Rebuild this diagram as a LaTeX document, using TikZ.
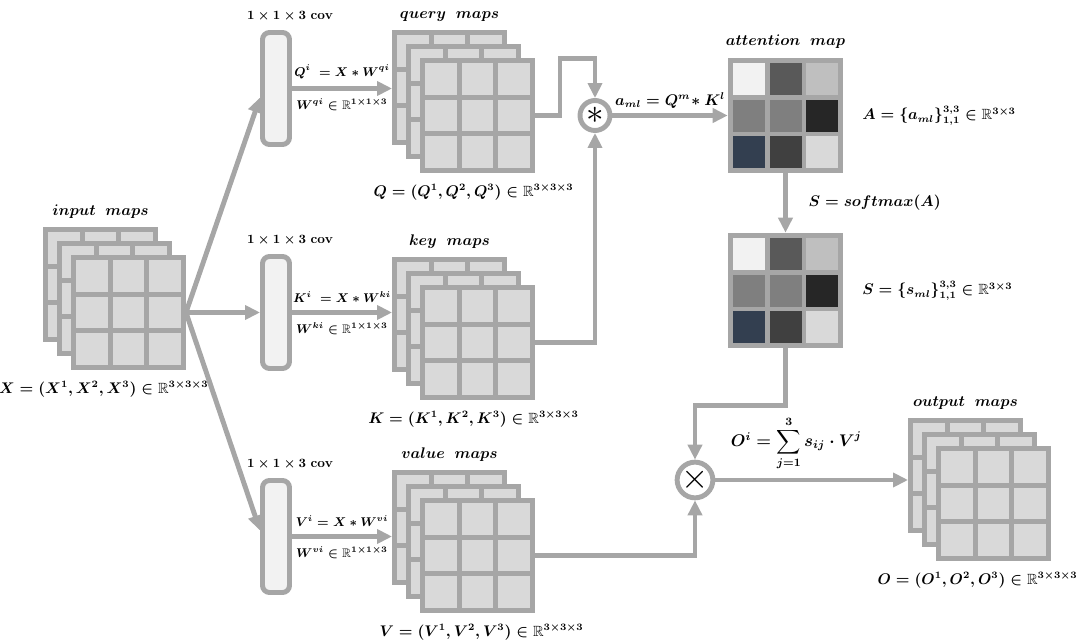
\documentclass[tikz,border=0pt]{standalone}
\usepackage{amsmath}
\usepackage{amssymb}
\usepackage{tikz}
\usetikzlibrary{positioning,arrows.meta,calc}
\definecolor{MapLine}{RGB}{166,166,166}
\definecolor{MapCell}{RGB}{217,217,217}
\definecolor{ConvFill}{RGB}{242,242,242}
\definecolor{CellW}{RGB}{242,242,242}
\definecolor{CellDa}{RGB}{89,89,89}
\definecolor{CellL}{RGB}{191,191,191}
\definecolor{CellM}{RGB}{127,127,127}
\definecolor{CellK}{RGB}{38,38,38}
\definecolor{CellB}{RGB}{51,63,80}
\definecolor{CellDb}{RGB}{64,64,64}
\definecolor{CellP}{RGB}{217,217,217}
\tikzset{
  fmap/.style={draw=MapLine,fill=MapCell,line width=3.5pt,minimum size=2.75cm,inner sep=0pt,
    path picture={
      \foreach \t in {1,2}{
        \draw[MapLine,line width=3.5pt]
          ($(path picture bounding box.north west)!\t/3!(path picture bounding box.north east)$) --
          ($(path picture bounding box.south west)!\t/3!(path picture bounding box.south east)$)
          ($(path picture bounding box.north west)!\t/3!(path picture bounding box.south west)$) --
          ($(path picture bounding box.north east)!\t/3!(path picture bounding box.south east)$);
      }}},
  convbox/.style={draw=MapLine,fill=ConvFill,line width=3.5pt,rounded corners=5pt,minimum width=0.675cm,minimum height=2.8cm,inner sep=0pt},
  opnode/.style={circle,draw=MapLine,fill=white,line width=3.5pt,minimum size=0.75cm,inner sep=0pt,font=\fontsize{26}{26}\selectfont},
  conn/.style={draw=MapLine,line width=3.5pt,-{Triangle[length=0.375cm,width=0.35cm]}},
  covlabel/.style={font=\fontsize{9.5}{11}\selectfont\boldmath},
  eqlabel/.style={font=\fontsize{8.8}{10}\selectfont\boldmath},
}
\begin{document}
\begin{tikzpicture}[x=0.025cm,y=-0.025cm,every node/.style={font=\fontsize{10.5}{12}\selectfont\boldmath}]
\useasboundingbox (0,0) rectangle (1080,644);
% feature map stacks
\foreach \m/\x/\y in {input/100.5/284.5,query/449.5/87.5,key/449.5/314.5,value/449.5/527.5,output/965.5/475.5}{
  \node[fmap] (\m-3) at (\x,\y) {};
  \node[fmap] (\m-2) at (\x+14,\y+14) {};
  \node[fmap] (\m-1) at (\x+28,\y+28) {};
}
% 1x1x3 convolutions
\node[convbox] (cov1) at (276,88.5) {};
\node[convbox] (cov2) at (276,312.5) {};
\node[convbox] (cov3) at (276,536.5) {};
\node[covlabel,above=0.1cm of cov1,xshift=0.35cm] {$1\times1\times3$ \textbf{cov}};
\node[covlabel,above=0.1cm of cov2,xshift=0.35cm] {$1\times1\times3$ \textbf{cov}};
\node[covlabel,above=0.1cm of cov3,xshift=0.35cm] {$1\times1\times3$ \textbf{cov}};
% attention and softmax maps
\node[fill=MapLine,minimum size=2.875cm,inner sep=0pt] (attn) at (785.5,115.5) {};
\node[fill=MapLine,minimum size=2.875cm,inner sep=0pt] (smap) at (785.5,290.5) {};
\foreach \name in {attn,smap}{
  \foreach \c/\r/\col in {0/0/CellW,1/0/CellDa,2/0/CellL,0/1/CellM,1/1/CellM,2/1/CellK,0/2/CellB,1/2/CellDb,2/2/CellP}
    \fill[\col] ($(\name.north west)+(5.5+36.5*\c,5.5+36.5*\r)$) rectangle +(32,32);
}
% operators
\node[opnode] (star) at (595,115.5) {$\ast$};
\node[opnode] (times) at (695,480) {$\times$};
% titles
\node[above=0.1cm of input-3] {$input\ \ maps$};
\node[above=0.1cm of query-3] {$query\ \ maps$};
\node[above=0.1cm of key-3] {$key\ \ maps$};
\node[above=0.1cm of value-3] {$value\ \ maps$};
\node[above=0.1cm of output-3] {$output\ \ maps$};
\node[above=0.1cm of attn] {$attention\ \ map$};
\node[below=0.15cm of input-1,xshift=-0.62cm] {$X=(X^1,X^2,X^3)\in\mathbb{R}^{3\times3\times3}$};
\node[below=0.15cm of query-1,xshift=-0.1cm] {$Q=(Q^1,Q^2,Q^3)\in\mathbb{R}^{3\times3\times3}$};
\node[below=0.15cm of key-1,xshift=-0.1cm] {$K=(K^1,K^2,K^3)\in\mathbb{R}^{3\times3\times3}$};
\node[below=0.15cm of value-1,xshift=0.1cm] {$V=(V^1,V^2,V^3)\in\mathbb{R}^{3\times3\times3}$};
\node[below=0.15cm of output-1,xshift=-0.4cm] {$O=(O^1,O^2,O^3)\in\mathbb{R}^{3\times3\times3}$};
\node[right=0.35cm of attn] {$A=\{a_{ml}\}_{1,1}^{3,3}\in\mathbb{R}^{3\times3}$};
\node[right=0.35cm of smap] {$S=\{s_{ml}\}_{1,1}^{3,3}\in\mathbb{R}^{3\times3}$};
% connectors
\draw[conn] (input-1.east) -- ($(cov1.west)+(0,9)$);
\draw[conn] (input-1.east) -- (input-1.east -| cov2.west);
\draw[conn] (input-1.east) -- ($(cov3.west)+(0,-6)$);
\draw[conn] (cov1.east) -- (cov1.east -| query-3.west)
  node[eqlabel,midway,above=2pt] {$Q^i\ =X\ast W^{qi}$} node[eqlabel,midway,below=2pt] {$W^{qi}\in\mathbb{R}^{1\times1\times3}$};
\draw[conn] (cov2.east) -- (cov2.east -| key-3.west)
  node[eqlabel,midway,above=2pt] {$K^i\ =X\ast W^{ki}$} node[eqlabel,midway,below=2pt] {$W^{ki}\in\mathbb{R}^{1\times1\times3}$};
\draw[conn] (cov3.east) -- (cov3.east -| value-3.west)
  node[eqlabel,midway,above=2pt] {$V^i=X\ast W^{vi}$} node[eqlabel,midway,below=2pt] {$W^{vi}\in\mathbb{R}^{1\times1\times3}$};
\draw[conn] (query-1.east) -- ++(25,0) -- ++(0,-57) -| (star.north);
\draw[conn] (key-1.east) -| (star.south);
\draw[conn] (star.east) -- (star -| attn.west) node[midway,above] {$a_{ml}=Q^m\!\ast K^l$};
\draw[conn] (attn.south) -- (smap.north) node[midway,right=0.4cm] {$S=softmax(A)$};
\draw[conn] (smap.south) -- ++(0,57) -| (times.north);
\draw[conn] (value-1.east) -| (times.south);
\draw[conn] (times.east) -- (times -| output-3.west)
  node[font=\large\boldmath,pos=0.42,above=2pt] {$O^i=\displaystyle\sum_{j=1}^{3}s_{ij}\cdot V^j$};
\end{tikzpicture}
\end{document}
